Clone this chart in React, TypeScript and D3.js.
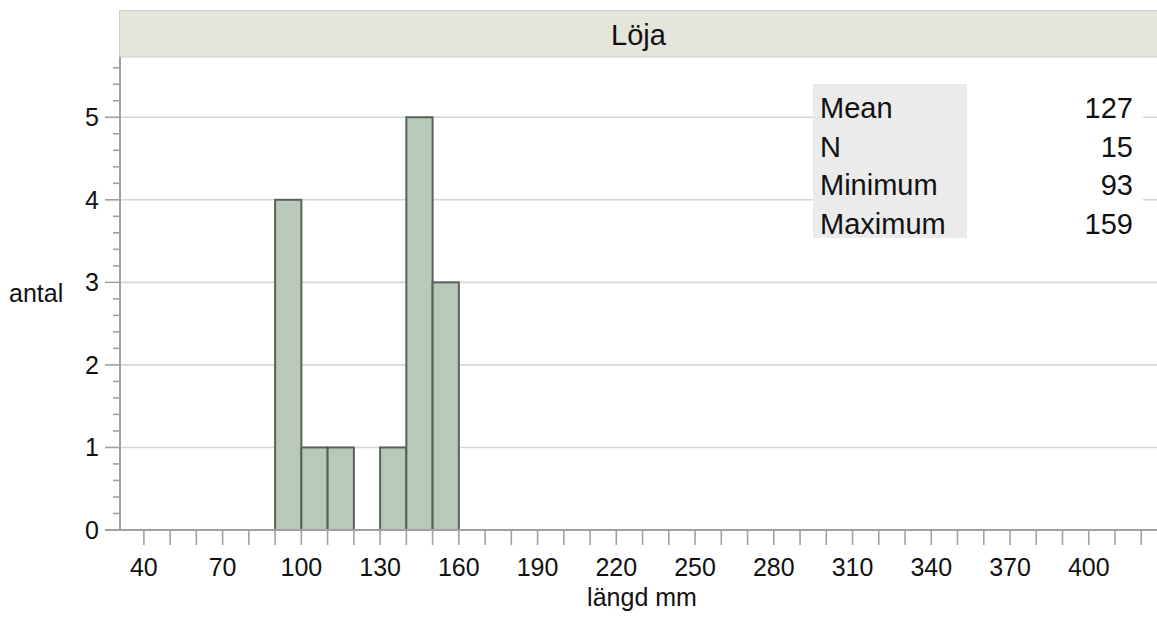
import React from "react";
import * as d3 from "d3";

const title = "Löja";
const binStarts = [90, 100, 110, 120, 130, 140, 150];
const binWidth = 10;
const counts = [4, 1, 1, 0, 1, 5, 3];
const xTickLabels = [40, 70, 100, 130, 160, 190, 220, 250, 280, 310, 340, 370, 400];
const yTickLabels = [0, 1, 2, 3, 4, 5];
const statLabels = ["Mean", "N", "Minimum", "Maximum"];
const statValues = ["127", "15", "93", "159"];

const W = 1157;
const H = 619;
const FONT = "'Liberation Sans', Arial, Helvetica, sans-serif";

export default function App() {
  const left = 120;
  const right = 1157;
  const top = 57;
  const bottom = 530;
  const x = d3.scaleLinear().domain([30.9, 426]).range([left, right]);
  const y = d3.scaleLinear().domain([0, 5.73]).range([bottom, top]);

  const xMinor = d3.range(40, 430, 10).filter((v) => x(v) <= right);
  const yMinor = d3.range(0, 5.71, 0.2).map((v) => Math.round(v * 10) / 10);

  const rowH = 38.5;
  const boxTop = 84;

  return (
    <svg width={W} height={H} style={{ position: "absolute", left: 0, top: 0, background: "#fff" }} fontFamily={FONT}>
      {/* header */}
      <rect x={119.5} y={10.5} width={1040} height={46.5} fill="#e5e5dc" stroke="#cfcfc6" strokeWidth={1} />
      <text x={(left + right) / 2} y={45} textAnchor="middle" fontSize={29} fill="#111">{title}</text>

      {/* gridlines */}
      {yTickLabels.filter((v) => v > 0).map((v) => (
        <line key={"g" + v} x1={left} x2={right} y1={y(v)} y2={y(v)} stroke="#d6d6d6" strokeWidth={1.6} />
      ))}

      {/* stats table background */}
      <rect x={967} y={boxTop} width={176} height={154} fill="#fff" />
      <rect x={813} y={boxTop} width={154} height={154} fill="#ebebeb" />
      {statLabels.map((l, i) => (
        <text key={l} x={820} y={boxTop + 34 + i * rowH} fontSize={29} fill="#111">{l}</text>
      ))}
      {statValues.map((v, i) => (
        <text key={"v" + i} x={1133} y={boxTop + 34 + i * rowH} fontSize={29} fill="#111" textAnchor="end">{v}</text>
      ))}

      {/* bars */}
      {binStarts.map((b, i) =>
        counts[i] > 0 ? (
          <rect
            key={"b" + b}
            x={x(b)}
            y={y(counts[i])}
            width={x(b + binWidth) - x(b)}
            height={y(0) - y(counts[i])}
            fill="#b9c9b9"
            stroke="#56625a"
            strokeWidth={2}
          />
        ) : null
      )}

      {/* y axis */}
      <line x1={left} x2={left} y1={top} y2={bottom} stroke="#a0a0a0" strokeWidth={2} />
      {yMinor.map((v) => {
        const major = Math.abs(v - Math.round(v)) < 1e-6;
        return (
          <line key={"yt" + v} x1={major ? 105 : 113} x2={left} y1={y(v)} y2={y(v)} stroke="#a0a0a0" strokeWidth={1.6} />
        );
      })}
      {yTickLabels.map((v) => (
        <text key={"yl" + v} x={99} y={y(v) + 9} fontSize={25} textAnchor="end" fill="#111">{v}</text>
      ))}
      <text x={9} y={302} fontSize={25} fill="#111">antal</text>

      {/* x axis */}
      <line x1={left - 15} x2={right} y1={bottom} y2={bottom} stroke="#a0a0a0" strokeWidth={2} />
      {xMinor.map((v) => (
        <line key={"xt" + v} x1={x(v)} x2={x(v)} y1={bottom} y2={545} stroke="#a0a0a0" strokeWidth={1.6} />
      ))}
      {xTickLabels.map((v) => (
        <text key={"xl" + v} x={x(v)} y={576} fontSize={25} textAnchor="middle" fill="#111">{v}</text>
      ))}
      <text x={642} y={606} fontSize={25} textAnchor="middle" fill="#111">längd mm</text>
    </svg>
  );
}
